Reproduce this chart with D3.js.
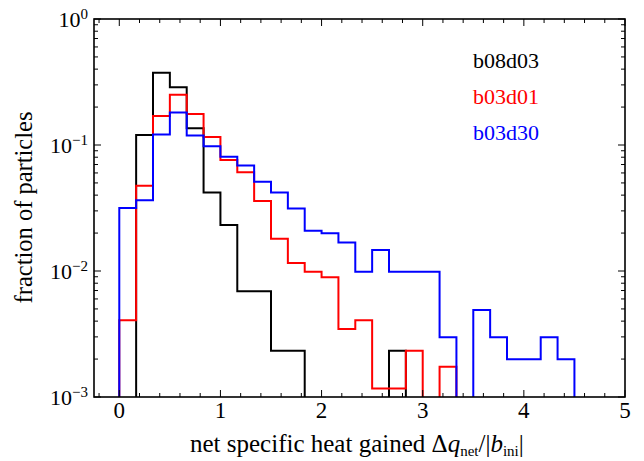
<!DOCTYPE html>
<html>
<head>
<meta charset="utf-8">
<script src="https://cdn.jsdelivr.net/npm/d3@7"></script>
<style>
  html, body { margin: 0; padding: 0; background: #fff; }
  svg text { font-family: "Liberation Serif", "DejaVu Serif", serif; }
</style>
</head>
<body>
<svg id="chart" width="644" height="461"></svg>
<script>
// Bin width of every histogram (bins start at 0)
const binWidth = 1 / 6;

// Fraction of particles per bin
const seriesNames = ["b08d03", "b03d01", "b03d30"];
const b08d03 = [0, 0.120, 0.375, 0.287, 0.136, 0.042, 0.0232, 0.0069, 0.0069, 0.00233, 0.00233,
                0, 0, 0, 0, 0, 0.00233];
const b03d01 = [0.00406, 0.0475, 0.170, 0.251, 0.176, 0.116, 0.076, 0.0607, 0.036, 0.0180, 0.0116,
                0.00988, 0.00892, 0.00346, 0.00406, 0.00117, 0.00117, 0.00233, 0, 0.00174];
const b03d30 = [0.0316, 0.0364, 0.121, 0.181, 0.119, 0.0976, 0.0807, 0.0686, 0.0512, 0.0419, 0.0314,
                0.0209, 0.0199, 0.0168, 0.00988, 0.0147, 0.00988, 0.00988, 0.00988, 0.00298,
                0, 0.0049, 0.00298, 0.00199, 0.00199, 0.00298, 0.00199];
const seriesColors = ["#000000", "#ff0000", "#0000ff"];

// Axis ticks
const xMajorTicks = [0, 1, 2, 3, 4, 5];
const xMinorTicks = [-0.2, 0.2, 0.4, 0.6, 0.8, 1.2, 1.4, 1.6, 1.8, 2.2, 2.4, 2.6, 2.8,
                     3.2, 3.4, 3.6, 3.8, 4.2, 4.4, 4.6, 4.8];
const yExponents = [0, -1, -2, -3];

const xDomain = [-0.25, 5];
const yDomain = [1e-3, 1];

const serif = "'Liberation Serif', 'DejaVu Serif', serif";
const svg = d3.select("#chart");
const m = { left: 94, right: 625, top: 19, bottom: 397 };

const x = d3.scaleLinear().domain(xDomain).range([m.left, m.right]);
const y = d3.scaleLog().domain(yDomain).range([m.bottom, m.top]);

// clip for the histogram outlines
svg.append("defs").append("clipPath").attr("id", "plotclip")
  .append("rect")
  .attr("x", m.left).attr("y", m.top)
  .attr("width", m.right - m.left).attr("height", m.bottom - m.top);

// Step outline of a histogram: rise from the baseline, follow each bin top, drop back down
function stepPath(values) {
  const base = m.bottom + 3;
  const yv = v => (v > 0 ? y(v) : base);
  const pts = [[x(0), base]];
  values.forEach((v, i) => {
    pts.push([x(i * binWidth), yv(v)]);
    pts.push([x((i + 1) * binWidth), yv(v)]);
  });
  pts.push([x(values.length * binWidth), base]);
  return d3.line()(pts);
}

const allSeries = [b08d03, b03d01, b03d30];
const gHist = svg.append("g").attr("clip-path", "url(#plotclip)");
allSeries.forEach((vals, k) => {
  gHist.append("path")
    .attr("d", stepPath(vals))
    .attr("fill", "none")
    .attr("stroke", seriesColors[k])
    .attr("stroke-width", 2)
    .attr("stroke-linejoin", "miter");
});

// Ticks (pointing inward on all four sides)
const gTicks = svg.append("g").attr("stroke", "#000").attr("stroke-width", 1);
const majorLen = 7, minorLen = 4;
xMajorTicks.forEach(t => {
  const px = x(t);
  gTicks.append("line").attr("x1", px).attr("x2", px).attr("y1", m.bottom).attr("y2", m.bottom - majorLen);
  gTicks.append("line").attr("x1", px).attr("x2", px).attr("y1", m.top).attr("y2", m.top + majorLen);
});
xMinorTicks.forEach(t => {
  const px = x(t);
  gTicks.append("line").attr("x1", px).attr("x2", px).attr("y1", m.bottom).attr("y2", m.bottom - minorLen);
  gTicks.append("line").attr("x1", px).attr("x2", px).attr("y1", m.top).attr("y2", m.top + minorLen);
});
yExponents.forEach(e => {
  const py = y(Math.pow(10, e));
  gTicks.append("line").attr("x1", m.left).attr("x2", m.left + majorLen).attr("y1", py).attr("y2", py);
  gTicks.append("line").attr("x1", m.right).attr("x2", m.right - majorLen).attr("y1", py).attr("y2", py);
  if (e > yExponents[yExponents.length - 1]) {
    for (let k = 2; k <= 9; k++) {
      const pm = y(k * Math.pow(10, e - 1));
      gTicks.append("line").attr("x1", m.left).attr("x2", m.left + minorLen).attr("y1", pm).attr("y2", pm);
      gTicks.append("line").attr("x1", m.right).attr("x2", m.right - minorLen).attr("y1", pm).attr("y2", pm);
    }
  }
});

// Frame
svg.append("rect")
  .attr("x", m.left).attr("y", m.top)
  .attr("width", m.right - m.left).attr("height", m.bottom - m.top)
  .attr("fill", "none").attr("stroke", "#000").attr("stroke-width", 1.6);

// X tick labels
xMajorTicks.forEach(t => {
  svg.append("text")
    .attr("x", x(t)).attr("y", 418)
    .attr("text-anchor", "middle")
    .attr("font-family", serif)
    .attr("font-size", 23)
    .text(d3.format("d")(t));
});

// Y tick labels: 10^e
yExponents.forEach(e => {
  const t = svg.append("text")
    .attr("x", 88).attr("y", y(Math.pow(10, e)) + 8)
    .attr("text-anchor", "end")
    .attr("font-family", serif)
    .attr("font-size", 22);
  t.append("tspan").text("10");
  t.append("tspan").attr("dy", -8).attr("font-size", 15)
    .text(e === 0 ? "0" : "\u2212" + Math.abs(e));
});

// Axis titles
svg.append("text")
  .attr("transform", `translate(32,${(113 + 302) / 2}) rotate(-90)`)
  .attr("text-anchor", "middle")
  .attr("font-family", serif)
  .attr("font-size", 24.5)
  .text("fraction of particles");

const xl = svg.append("text")
  .attr("x", 190).attr("y", 452)
  .attr("text-anchor", "start")
  .attr("font-family", serif)
  .attr("font-size", 25);
xl.append("tspan").text("net specific heat gained \u0394");
xl.append("tspan").attr("font-style", "italic").text("q");
xl.append("tspan").attr("font-size", 15).attr("dy", 4).text("net");
xl.append("tspan").attr("dy", -4).text("/|");
xl.append("tspan").attr("font-style", "italic").text("b");
xl.append("tspan").attr("font-size", 15).attr("dy", 4).text("ini");
xl.append("tspan").attr("dy", -4).text("|");

// Legend
const legendY = [68, 104, 140];
seriesNames.forEach((name, k) => {
  svg.append("text")
    .attr("x", 473).attr("y", legendY[k])
    .attr("font-family", serif)
    .attr("font-size", 22)
    .attr("fill", seriesColors[k])
    .text(name);
});
</script>
</body>
</html>
